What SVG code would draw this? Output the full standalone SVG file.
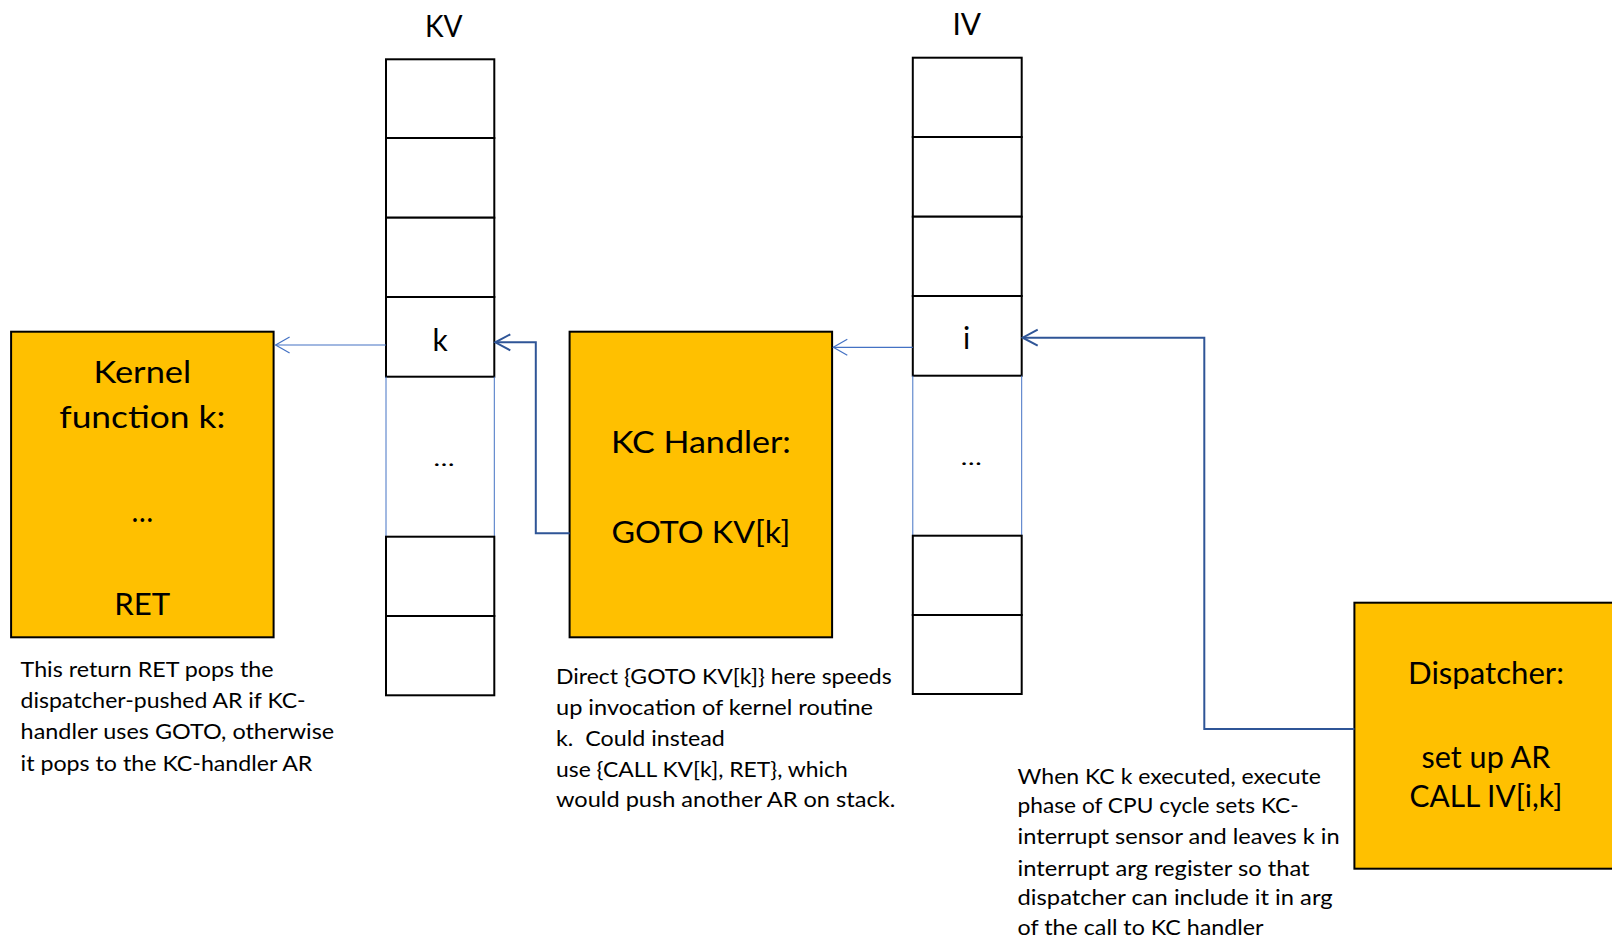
<svg xmlns="http://www.w3.org/2000/svg" width="1612" height="946" viewBox="0 0 1612 946">
  <style>
    text { font-family: Lato, "Liberation Sans", sans-serif; fill: #000; }
    .big { font-size: 30px; text-anchor: middle; }
    .cap { font-size: 22px; }
    .mid { text-anchor: middle; }
    .box { fill: #FFC000; stroke: #000; stroke-width: 2; }
    .cell { fill: #fff; stroke: #000; stroke-width: 2; }
    .gap { stroke: #4472C4; stroke-width: 1; fill: none; }
    .thin { stroke: #4472C4; stroke-width: 1.2; fill: none; marker-end: url(#openThin); }
    .thick { stroke: #2F5597; stroke-width: 2; fill: none; marker-end: url(#openThick); }
  </style>
  <defs>
    <marker id="openThin" markerUnits="userSpaceOnUse" viewBox="-16 -10 18 20" refX="0" refY="0" markerWidth="18" markerHeight="20" orient="auto">
      <path d="M-14,-8 L0,0 L-14,8" fill="none" stroke="#4472C4" stroke-width="1.2"/>
    </marker>
    <marker id="openThick" markerUnits="userSpaceOnUse" viewBox="-17 -10 19 20" refX="0" refY="0" markerWidth="19" markerHeight="20" orient="auto">
      <path d="M-15,-8 L0,0 L-15,8" fill="none" stroke="#2F5597" stroke-width="2"/>
    </marker>
  </defs>

  <rect width="1612" height="946" fill="#fff"/>

  <!-- Kernel vector table -->
  <g id="kv">
    <text class="big" x="443.8" y="36.7" textLength="37.6" lengthAdjust="spacingAndGlyphs">KV</text>
    <rect class="cell" x="386" y="59.3" width="108.3" height="78.7"/>
    <rect class="cell" x="386" y="138" width="108.3" height="79.7"/>
    <rect class="cell" x="386" y="217.7" width="108.3" height="79.3"/>
    <rect class="cell" x="386" y="297" width="108.3" height="79.7"/>
    <text class="big" x="440" y="350.7">k</text>
    <line class="gap" x1="386" y1="376.7" x2="386" y2="536.7"/>
    <line class="gap" x1="494.3" y1="376.7" x2="494.3" y2="536.7"/>
    <text class="cap mid" x="444" y="466" textLength="21" lengthAdjust="spacingAndGlyphs">…</text>
    <rect class="cell" x="386" y="536.7" width="108.3" height="79.3"/>
    <rect class="cell" x="386" y="616" width="108.3" height="79.3"/>
  </g>

  <!-- Interrupt vector table -->
  <g id="iv">
    <text class="big" x="966.7" y="35" textLength="28.6" lengthAdjust="spacingAndGlyphs">IV</text>
    <rect class="cell" x="912.8" y="57.7" width="108.9" height="79.3"/>
    <rect class="cell" x="912.8" y="137" width="108.9" height="79.7"/>
    <rect class="cell" x="912.8" y="216.7" width="108.9" height="79.3"/>
    <rect class="cell" x="912.8" y="296" width="108.9" height="79.7"/>
    <text class="big" x="966.6" y="349.3">i</text>
    <line class="gap" x1="912.8" y1="375.7" x2="912.8" y2="535.7"/>
    <line class="gap" x1="1021.7" y1="375.7" x2="1021.7" y2="535.7"/>
    <text class="cap mid" x="971.3" y="465" textLength="21" lengthAdjust="spacingAndGlyphs">…</text>
    <rect class="cell" x="912.8" y="535.7" width="108.9" height="79.3"/>
    <rect class="cell" x="912.8" y="615" width="108.9" height="79"/>
  </g>

  <!-- Kernel function k -->
  <g id="kernel">
    <rect class="box" x="11.1" y="331.7" width="262.5" height="305.6"/>
    <text class="big" x="142.3" y="382.7" textLength="97.7" lengthAdjust="spacingAndGlyphs">Kernel</text>
    <text class="big" x="142.3" y="428.3" textLength="166" lengthAdjust="spacingAndGlyphs">function k:</text>
    <text class="big" x="142.3" y="521.7" textLength="21.7" lengthAdjust="spacingAndGlyphs">…</text>
    <text class="big" x="142.3" y="615" textLength="56" lengthAdjust="spacingAndGlyphs">RET</text>
  </g>
  <g id="kernel-note" class="cap">
    <text x="20.6" y="677.3" textLength="253" lengthAdjust="spacingAndGlyphs">This return RET pops the</text>
    <text x="20.6" y="708.3" textLength="285" lengthAdjust="spacingAndGlyphs">dispatcher-pushed AR if KC-</text>
    <text x="20.6" y="739.3" textLength="313.6" lengthAdjust="spacingAndGlyphs">handler uses GOTO, otherwise</text>
    <text x="20.6" y="770.7" textLength="291.8" lengthAdjust="spacingAndGlyphs">it pops to the KC-handler AR</text>
  </g>

  <!-- KC handler -->
  <g id="kc-handler">
    <rect class="box" x="569.6" y="331.7" width="262.5" height="305.6"/>
    <text class="big" x="700.9" y="452.7" textLength="180" lengthAdjust="spacingAndGlyphs">KC Handler:</text>
    <text class="big" x="700.9" y="543.3" textLength="179" lengthAdjust="spacingAndGlyphs">GOTO KV[k]</text>
  </g>
  <g id="kc-handler-note" class="cap">
    <text x="556" y="684" textLength="335.6" lengthAdjust="spacingAndGlyphs">Direct {GOTO KV[k]} here speeds</text>
    <text x="556" y="715" textLength="317" lengthAdjust="spacingAndGlyphs">up invocation of kernel routine</text>
    <text x="556" y="745.7" textLength="168.9" lengthAdjust="spacingAndGlyphs" xml:space="preserve">k.  Could instead</text>
    <text x="556" y="776.7" textLength="291.7" lengthAdjust="spacingAndGlyphs">use {CALL KV[k], RET}, which</text>
    <text x="556" y="806.7" textLength="339.2" lengthAdjust="spacingAndGlyphs">would push another AR on stack.</text>
  </g>

  <!-- Dispatcher -->
  <g id="dispatcher">
    <rect class="box" x="1354.4" y="602.7" width="264" height="266"/>
    <text class="big" x="1486" y="684" textLength="156" lengthAdjust="spacingAndGlyphs">Dispatcher:</text>
    <text class="big" x="1486" y="768.3" textLength="128.8" lengthAdjust="spacingAndGlyphs">set up AR</text>
    <text class="big" x="1486" y="806.7" textLength="153" lengthAdjust="spacingAndGlyphs">CALL IV[i,k]</text>
  </g>
  <g id="dispatcher-note" class="cap">
    <text x="1017.6" y="784" textLength="303.3" lengthAdjust="spacingAndGlyphs">When KC k executed, execute</text>
    <text x="1017.6" y="813.3" textLength="281" lengthAdjust="spacingAndGlyphs">phase of CPU cycle sets KC-</text>
    <text x="1017.6" y="844" textLength="322" lengthAdjust="spacingAndGlyphs">interrupt sensor and leaves k in</text>
    <text x="1017.6" y="876" textLength="292" lengthAdjust="spacingAndGlyphs">interrupt arg register so that</text>
    <text x="1017.6" y="905" textLength="315" lengthAdjust="spacingAndGlyphs">dispatcher can include it in arg</text>
    <text x="1017.6" y="935" textLength="245.9" lengthAdjust="spacingAndGlyphs">of the call to KC handler</text>
  </g>

  <!-- Connectors -->
  <g id="connectors">
    <path class="thin" d="M386,345 L275.6,345"/>
    <path class="thick" d="M569.6,533.3 L535.8,533.3 L535.8,342.3 L495.3,342.3"/>
    <path class="thin" d="M912.8,347.3 L833.3,347.3"/>
    <path class="thick" d="M1354.4,729 L1204.3,729 L1204.3,337.7 L1022.7,337.7"/>
  </g>
</svg>
